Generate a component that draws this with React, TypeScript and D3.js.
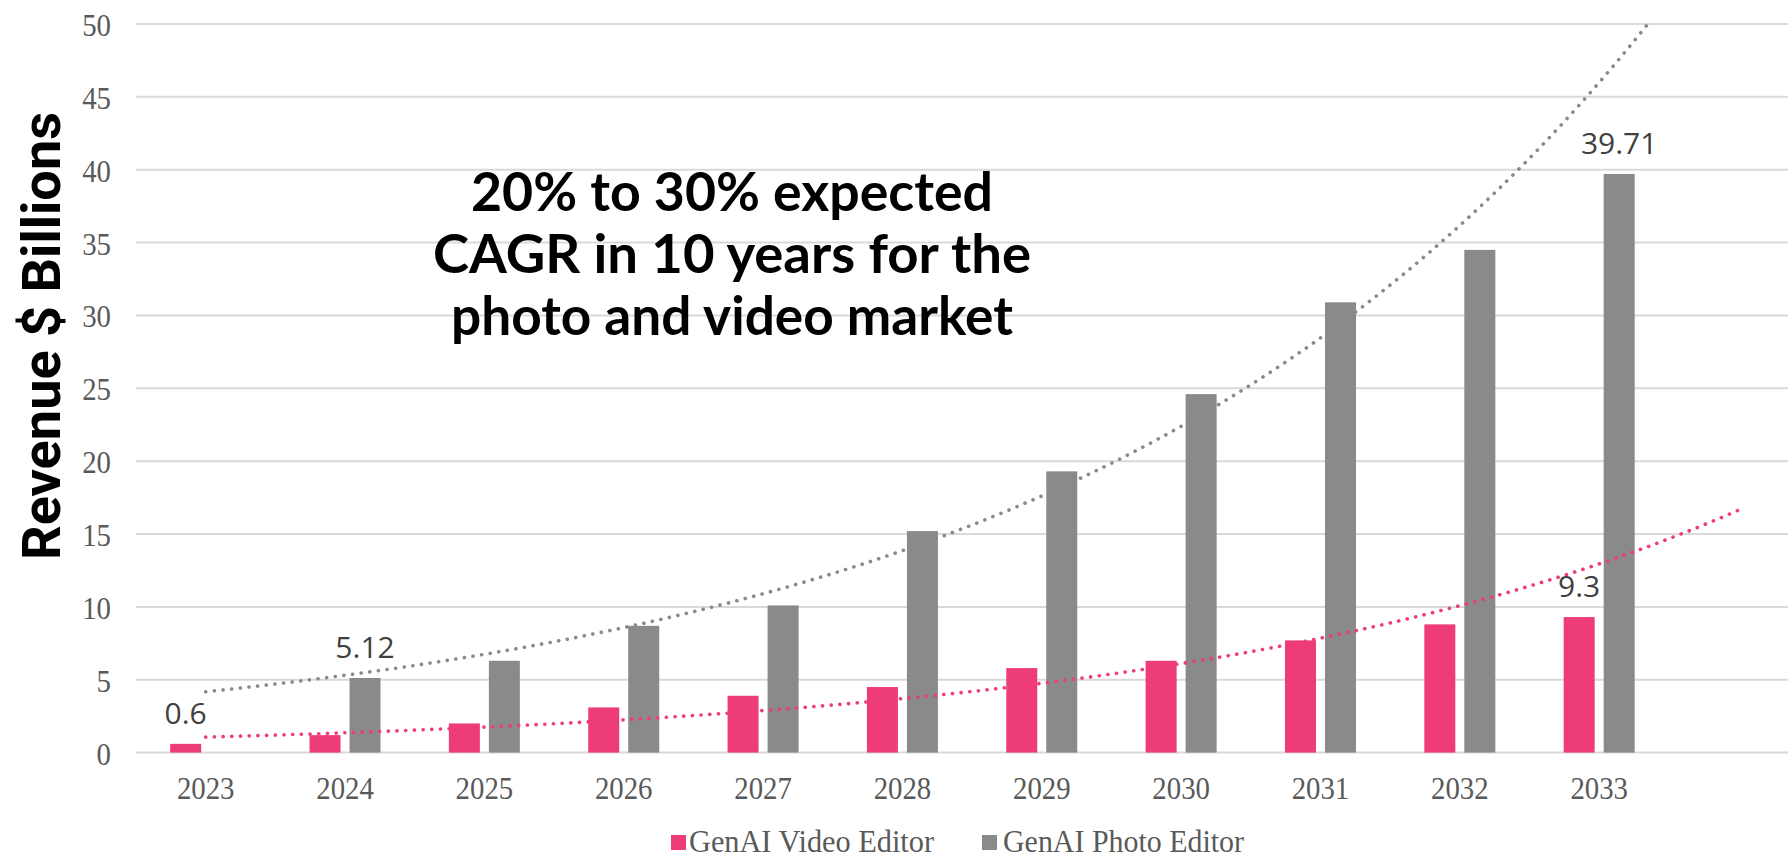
import React, { useEffect } from "react";
import * as d3 from "d3";

const years = ["2023", "2024", "2025", "2026", "2027", "2028", "2029", "2030", "2031", "2032", "2033"];
const videoEditor: (number | null)[] = [0.6, 1.2, 2.0, 3.1, 3.9, 4.5, 5.8, 6.3, 7.7, 8.8, 9.3];
const photoEditor: (number | null)[] = [null, 5.12, 6.3, 8.7, 10.1, 15.2, 19.3, 24.6, 30.9, 34.5, 39.71];
const yTicks = [0, 5, 10, 15, 20, 25, 30, 35, 40, 45, 50];
const videoLabels = [0, 10];
const photoLabels = [1, 10];
const seriesNames = ["GenAI Video Editor", "GenAI Photo Editor"];
const annotation = ["20% to 30% expected", "CAGR in 10 years for the", "photo and video market"];
const yTitle = "Revenue $ Billions";

const W = 1788;
const H = 860;
const PINK = "#EE3C7A";
const GRAY = "#8A8A8A";

// exponential least-squares fit (Excel-style trendline)
function expFit(vals: (number | null)[]) {
  const pts = vals.map((v, i) => [i, v] as [number, number | null]).filter((p) => p[1] != null && (p[1] as number) > 0) as [number, number][];
  const mx = d3.mean(pts, (p) => p[0]) as number;
  const my = d3.mean(pts, (p) => Math.log(p[1])) as number;
  let sxy = 0, sxx = 0;
  pts.forEach(([x, v]) => { sxy += (x - mx) * (Math.log(v) - my); sxx += (x - mx) * (x - mx); });
  const b = sxy / sxx;
  const a = Math.exp(my - b * mx);
  return (x: number) => a * Math.exp(b * x);
}

export default function App() {
  useEffect(() => {
    document.body.style.margin = "0";
    document.body.style.overflow = "hidden";
  }, []);

  const nBands = years.length + 1;
  const x = d3.scaleBand<number>().domain(d3.range(nBands)).range([136, 136 + nBands * 139.35]).padding(0);
  const y = d3.scaleLinear().domain([0, 50]).range([752.6, 24]);
  const cx = (i: number) => (x(0) as number) + x.bandwidth() / 2 + i * x.step();
  const barW = 31;
  const gap = 9;

  const trendX = d3.range(0, 11.001, 0.05);
  const line = d3.line<number>().x((i) => cx(i));
  const vFit = expFit(videoEditor);
  const pFit = expFit(photoEditor);
  const vPath = line.y((i) => y(vFit(i)))(trendX) as string;
  const pPath = line.y((i) => y(pFit(i)))(trendX) as string;

  const tickFont = "'Liberation Serif', 'Times New Roman', serif";
  const sx = 0.9;

  return (
    <svg width={W} height={H} style={{ position: "absolute", left: 0, top: 0, background: "#fff" }}>
      <defs>
        <clipPath id="plot">
          <rect x={0} y={y(50) - 2} width={W} height={y(0) - y(50) + 4} />
        </clipPath>
      </defs>
      {/* gridlines */}
      {yTicks.map((t) => (
        <line key={t} x1={x.range()[0]} x2={x.range()[1]} y1={y(t)} y2={y(t)} stroke="#D9D9D9" strokeWidth={2} />
      ))}
      {/* y tick labels */}
      {yTicks.map((t) => (
        <text key={"yl" + t} transform={`translate(111,${y(t) + 12}) scale(${sx},1)`} textAnchor="end" fontFamily={tickFont} fontSize={32} fill="#595959">
          {t}
        </text>
      ))}
      {/* bars */}
      {videoEditor.map((v, i) =>
        v == null ? null : (
          <rect key={"v" + i} x={cx(i) - gap / 2 - barW} y={y(v)} width={barW} height={y(0) - y(v)} fill={PINK} />
        )
      )}
      {photoEditor.map((v, i) =>
        v == null ? null : (
          <rect key={"p" + i} x={cx(i) + gap / 2} y={y(v)} width={barW} height={y(0) - y(v)} fill={GRAY} />
        )
      )}
      {/* trendlines */}
      <g clipPath="url(#plot)">
        <path d={pPath} fill="none" stroke={GRAY} strokeWidth={3.6} strokeLinecap="round" strokeDasharray="0.1 8.6" />
        <path d={vPath} fill="none" stroke={PINK} strokeWidth={3.6} strokeLinecap="round" strokeDasharray="0.1 8.6" />
      </g>
      {/* data labels */}
      {videoLabels.map((i) => (
        <text key={"vl" + i} x={cx(i) - gap / 2 - barW / 2} y={y(videoEditor[i] as number) - 20} textAnchor="middle" fontFamily="'Open Sans', sans-serif" fontSize={30} fill="#404040">
          {String(videoEditor[i])}
        </text>
      ))}
      {photoLabels.map((i) => (
        <text key={"pl" + i} x={cx(i) + gap / 2 + barW / 2} y={y(photoEditor[i] as number) - 20} textAnchor="middle" fontFamily="'Open Sans', sans-serif" fontSize={30} fill="#404040">
          {String(photoEditor[i])}
        </text>
      ))}
      {/* x tick labels */}
      {years.map((yr, i) => (
        <text key={yr} transform={`translate(${cx(i)},799) scale(${sx},1)`} textAnchor="middle" fontFamily={tickFont} fontSize={32} fill="#595959">
          {yr}
        </text>
      ))}
      {/* y title */}
      <text transform="translate(60,336) rotate(-90)" textAnchor="middle" fontFamily="Roboto, sans-serif" fontWeight={700} fontSize={54} fill="#000" textLength={448} lengthAdjust="spacingAndGlyphs">
        {yTitle}
      </text>
      {/* annotation */}
      {annotation.map((t, k) => (
        <text key={t} x={732} y={211 + k * 62} textAnchor="middle" fontFamily="Lato, sans-serif" fontWeight={700} fontSize={53} fill="#000" textLength={[522, 598, 562][k]} lengthAdjust="spacingAndGlyphs">
          {t}
        </text>
      ))}
      {/* legend */}
      <rect x={671} y={835} width={15} height={15} fill={PINK} />
      <text x={689} y={852} fontFamily={tickFont} fontSize={31} fill="#595959" textLength={245} lengthAdjust="spacingAndGlyphs">
        {seriesNames[0]}
      </text>
      <rect x={982} y={835} width={15} height={15} fill={GRAY} />
      <text x={1003} y={852} fontFamily={tickFont} fontSize={31} fill="#595959" textLength={241} lengthAdjust="spacingAndGlyphs">
        {seriesNames[1]}
      </text>
    </svg>
  );
}
